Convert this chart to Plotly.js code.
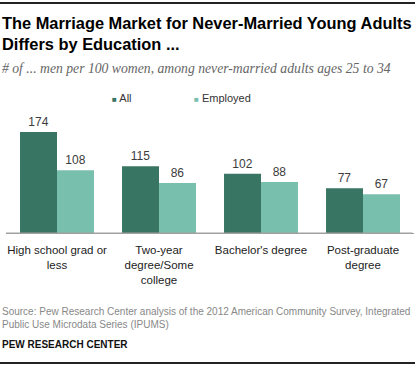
<!DOCTYPE html>
<html>
<head>
<meta charset="utf-8">
<script src="https://cdn.plot.ly/plotly-3.0.1.min.js"></script>
<style>html,body{margin:0;padding:0;background:#fff;}#chart{width:415px;height:367px;}</style>
</head>
<body>
<div id="chart"></div>
<script>
const categories = ["High school grad or<br>less", "Two-year<br>degree/Some<br>college", "Bachelor's degree", "Post-graduate<br>degree"];
const allValues = [174, 115, 102, 77];
const employedValues = [108, 86, 88, 67];
const seriesNames = ["All", "Employed"];
const seriesColors = ['#387563', '#78bfae'];

const W = 415, H = 367;
const L = 6, R = 1, T = 110, B = 134;
const pw = W - L - R, ph = H - T - B;
const px = x => (x - L) / pw;
const py = y => (H - B - y) / ph;

const font = "Liberation Sans, Arial, sans-serif";

const traces = [allValues, employedValues].map((vals, i) => ({
  type: 'bar', name: seriesNames[i], x: categories, y: vals,
  marker: {color: seriesColors[i]}, text: vals.map(String), textposition: 'outside',
  textfont: {size: 12, color: '#3c3c3c', family: font}, cliponaxis: false,
  showlegend: false
}));

const legendX = [110, 192];
const legendAnn = seriesNames.map((n, i) => ({
  text: '<span style="color:' + seriesColors[i] + ';font-size:8px">■</span> ' + n,
  xref: 'paper', yref: 'paper', x: px(legendX[i]), y: py(98), xanchor: 'left', yanchor: 'middle',
  showarrow: false, font: {size: 11, color: '#333', family: font}
}));

// horizontal rules drawn as arrow-only annotations (no head)
const ruleAnn = (x, y, yref, len, color, width) => ({
  text: '', xref: 'paper', yref: yref, x: x, y: y, showarrow: true, arrowhead: 0,
  arrowwidth: width, arrowcolor: color, ax: len, ay: 0, axref: 'pixel', ayref: 'pixel',
  standoff: 0, startstandoff: 0
});

const layout = {
  width: W, height: H,
  margin: {l: L, r: R, t: T, b: B},
  font: {family: font, color: '#333'},
  barmode: 'group', bargap: 0.275, bargroupgap: 0,
  showlegend: false,
  xaxis: {type: 'category', showgrid: false, zeroline: false, showline: true, linecolor: '#a0a0a0', linewidth: 1,
          ticks: '', ticklabelstandoff: 6, tickfont: {size: 11.5, color: '#222', family: font}},
  yaxis: {range: [0, 212], visible: false},
  shapes: [
    {type: 'line', xref: 'paper', yref: 'paper', x0: px(0), x1: px(415), y0: py(3), y1: py(3),
     line: {color: '#222', width: 2}},
    {type: 'line', xref: 'paper', yref: 'paper', x0: px(0), x1: px(415), y0: py(363), y1: py(363),
     line: {color: '#222', width: 2}}
  ],
  annotations: [
    ruleAnn(px(0), py(3), 'paper', 420, '#222', 2),
    ruleAnn(px(0), py(363), 'paper', 420, '#222', 2),
    ruleAnn(px(6), 0, 'y', 408, '#a0a0a0', 1),
    {text: '<b>The Marriage Market for Never-Married Young Adults</b>', xref: 'paper', yref: 'paper',
     x: px(0), y: py(23), xanchor: 'left', yanchor: 'middle', showarrow: false,
     font: {size: 16.4, color: '#000', family: font}},
    {text: '<b>Differs by Education ...</b>', xref: 'paper', yref: 'paper',
     x: px(0), y: py(44), xanchor: 'left', yanchor: 'middle', showarrow: false,
     font: {size: 16.4, color: '#000', family: font}},
    {text: '<i># of ... men per 100 women, among never-married adults ages 25 to 34</i>', xref: 'paper', yref: 'paper',
     x: px(0), y: py(68), xanchor: 'left', yanchor: 'middle', showarrow: false,
     font: {size: 13.7, color: '#666', family: 'Liberation Serif, Georgia, serif'}},
    {text: 'Source: Pew Research Center analysis of the 2012 American Community Survey, Integrated<br>Public Use Microdata Series (IPUMS)',
     xref: 'paper', yref: 'paper', x: px(0), y: py(304), xanchor: 'left', yanchor: 'top', align: 'left', showarrow: false,
     font: {size: 10, color: '#888', family: font}},
    {text: '<b>PEW RESEARCH CENTER</b>', xref: 'paper', yref: 'paper',
     x: px(0), y: py(344), xanchor: 'left', yanchor: 'middle', showarrow: false,
     font: {size: 10, color: '#111', family: font}}
  ].concat(legendAnn)
};

Plotly.newPlot('chart', traces, layout, {displayModeBar: false});
</script>
</body>
</html>
